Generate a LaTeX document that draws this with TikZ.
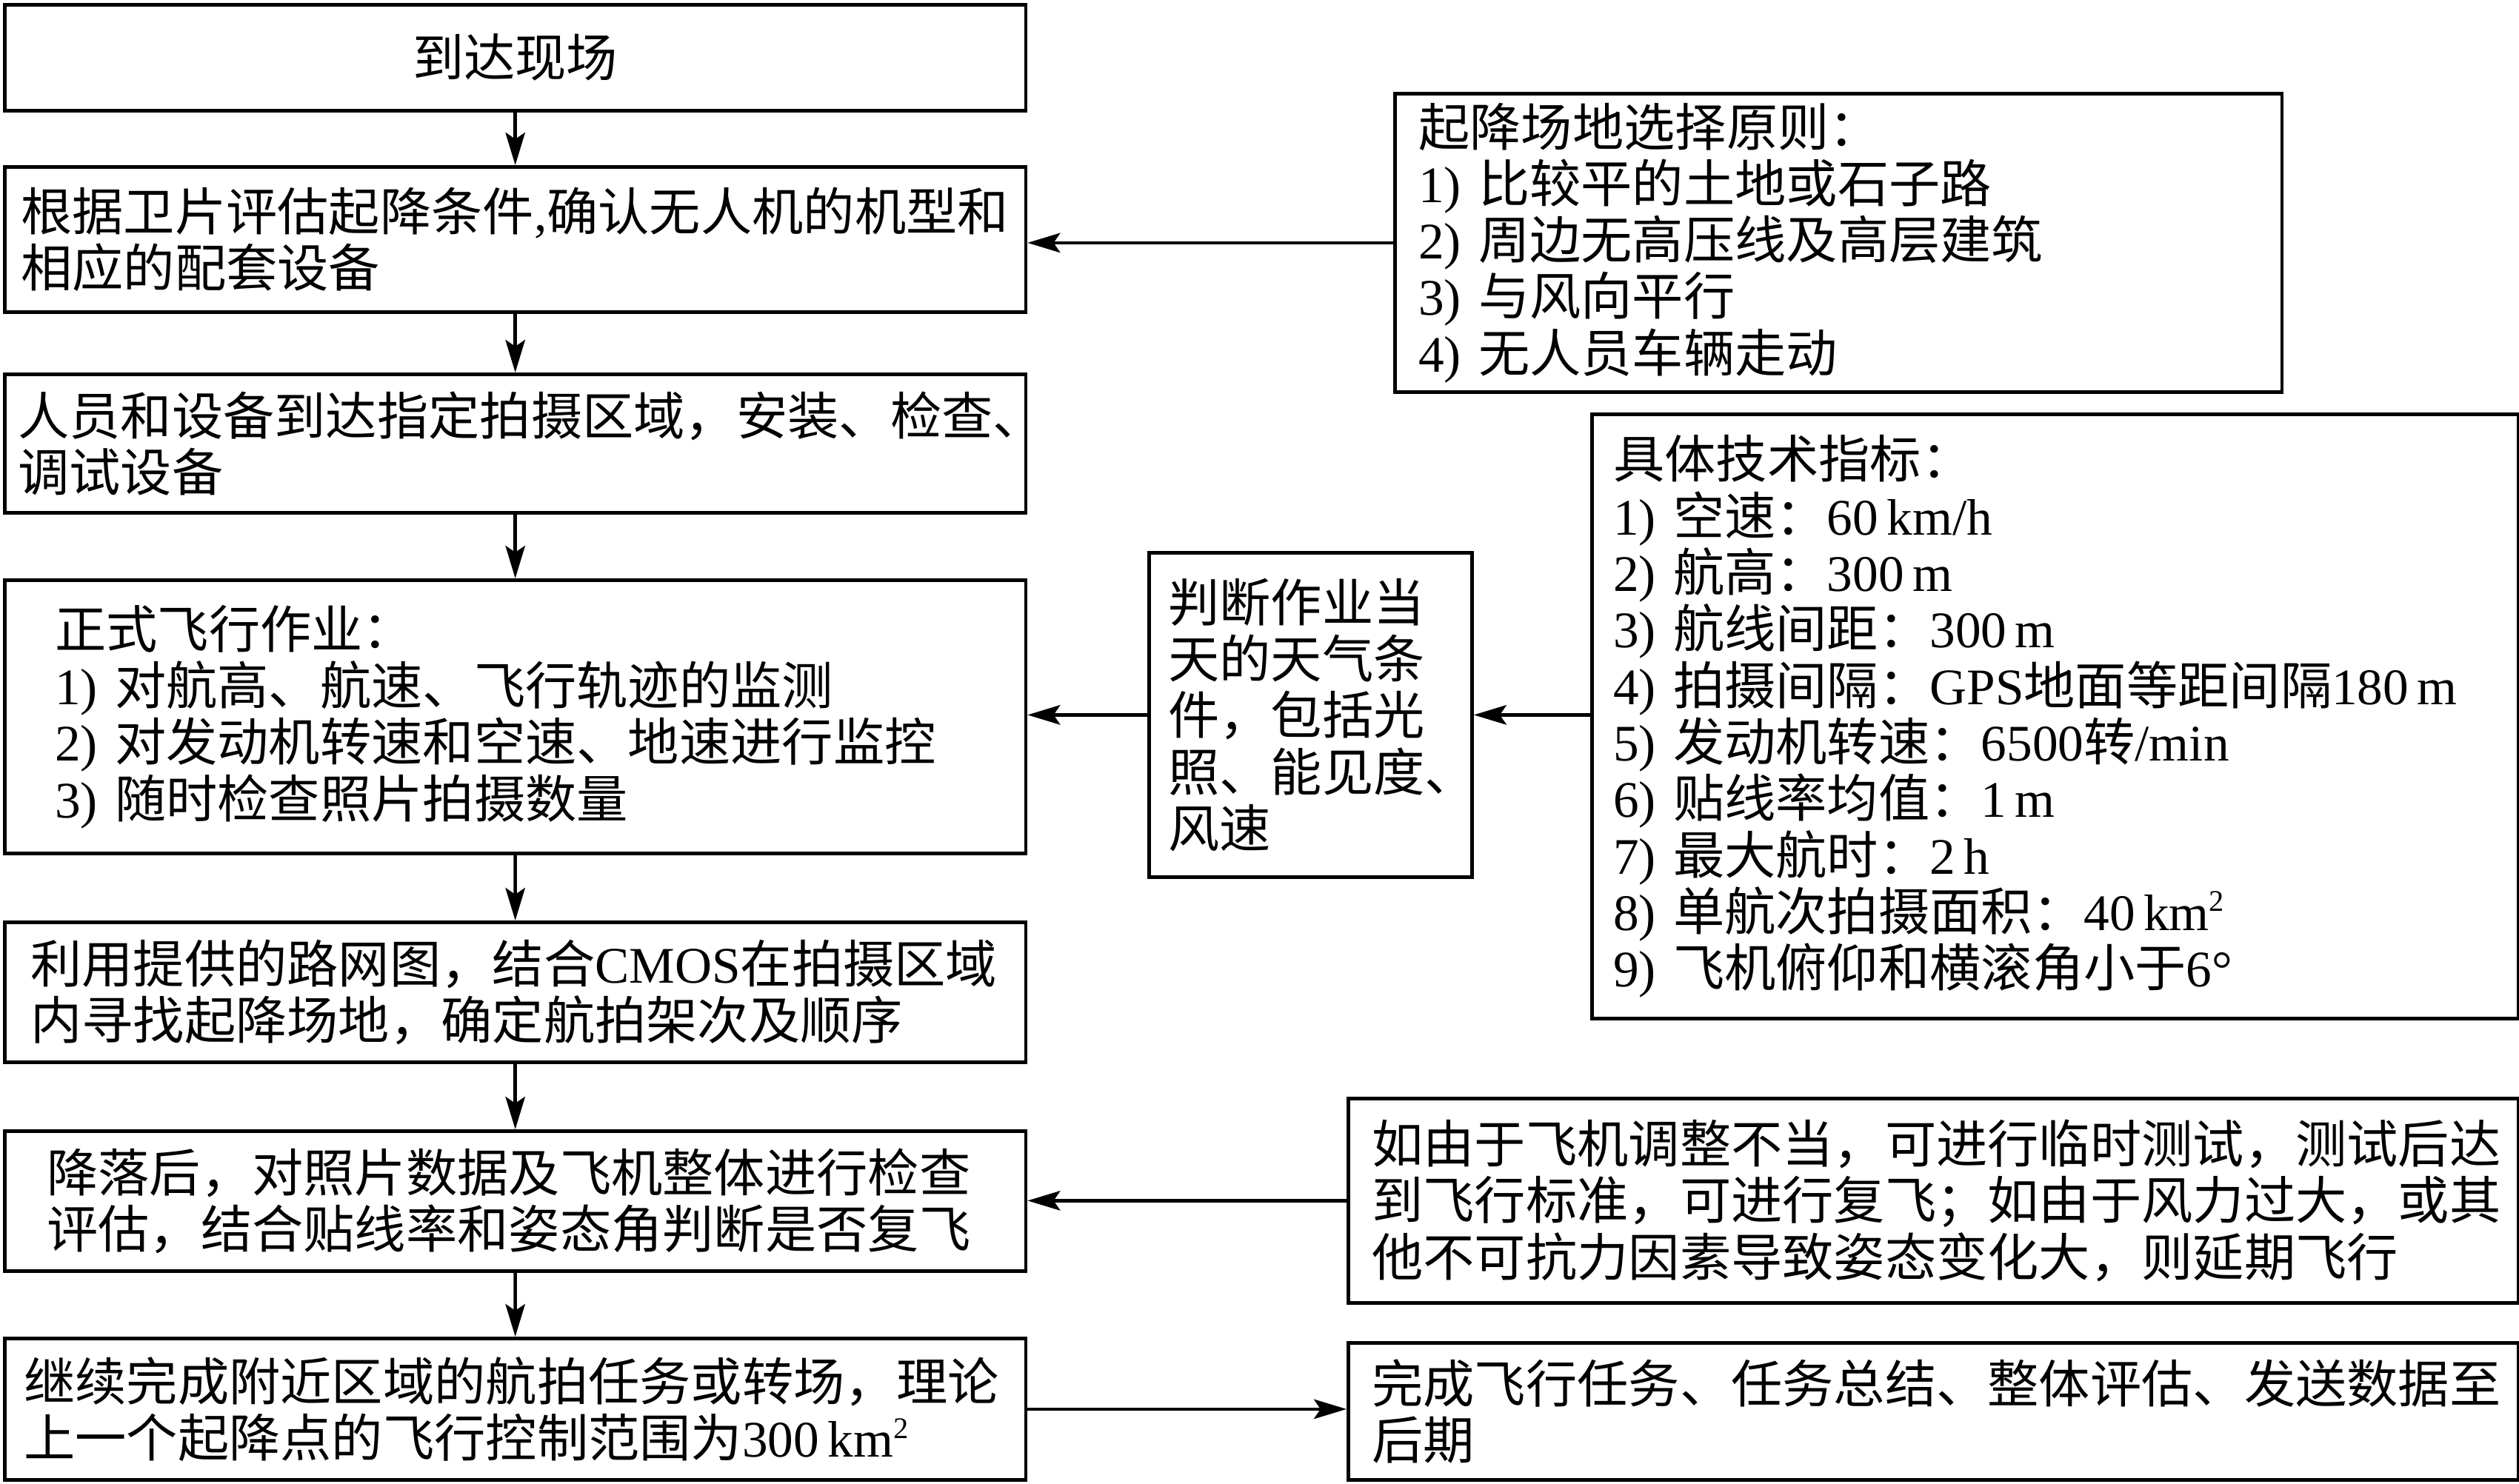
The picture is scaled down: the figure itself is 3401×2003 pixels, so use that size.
\documentclass[tikz,border=0pt]{standalone}
\usepackage{fontspec}
\setmainfont{Noto Sans CJK SC}
\newfontfamily\tnrfont{Liberation Serif}
\newcommand\tnr[1]{{\tnrfont #1}}
\newcommand\sq{\raisebox{0.8ex}{\fontsize{11.5}{11.5}\selectfont 2}}
\usetikzlibrary{arrows.meta}
\begin{document}
\begin{tikzpicture}[x=0.01cm,y=-0.01cm,
  box/.style={draw, line width=1.3pt, inner ysep=2pt, anchor=north west,
    font=\fontsize{19.7}{21.7}\selectfont},
  lbox/.style={box, align=left},
  arr/.style={line width=1.3pt, -{Stealth[length=12.5pt,width=7.5pt,inset=2.5pt]}}]
\useasboundingbox (0,0) rectangle (3401,2003);
% left column
\node[box, minimum width=13.78cm, minimum height=1.43cm] (b1) at (4,4) {到达现场};
\node[lbox, minimum width=13.78cm, minimum height=1.96cm, inner xsep=0.22cm, text width=13.34cm] (b2) at (4,223)
  {根据卫片评估起降条件\tnr{,}确认无人机的机型和\\相应的配套设备};
\node[lbox, minimum width=13.78cm, minimum height=1.87cm, inner xsep=0.18cm, text width=13.42cm] (b3) at (4,503)
  {人员和设备到达指定拍摄区域，安装、检查、\\调试设备};
\node[lbox, minimum width=13.78cm, minimum height=3.69cm, inner xsep=0.68cm, text width=12.42cm] (b4) at (4,781)
  {正式飞行作业：\\\tnr{1) }对航高、航速、飞行轨迹的监测\\\tnr{2) }对发动机转速和空速、地速进行监控\\\tnr{3) }随时检查照片拍摄数量};
\node[lbox, minimum width=13.78cm, minimum height=1.89cm, inner xsep=0.35cm, text width=13.08cm] (b5) at (4,1243)
  {利用提供的路网图，结合\tnr{CMOS}在拍摄区域\\内寻找起降场地，确定航拍架次及顺序};
\node[lbox, minimum width=13.78cm, minimum height=1.89cm, inner xsep=0.57cm, text width=12.64cm] (b6) at (4,1525)
  {降落后，对照片数据及飞机整体进行检查\\评估，结合贴线率和姿态角判断是否复飞};
\node[lbox, minimum width=13.78cm, minimum height=1.91cm, inner xsep=0.26cm, text width=13.26cm] (b7) at (4,1805)
  {继续完成附近区域的航拍任务或转场，理论\\上一个起降点的飞行控制范围为\tnr{300\,km\sq}};
% right side
\node[lbox, minimum width=11.97cm, minimum height=4.03cm, inner xsep=0.32cm, text width=11.33cm] (A) at (1881,124)
  {起降场地选择原则：\\\tnr{1) }比较平的土地或石子路\\\tnr{2) }周边无高压线及高层建筑\\\tnr{3) }与风向平行\\\tnr{4) }无人员车辆走动};
\node[lbox, minimum width=12.50cm, minimum height=8.16cm, inner xsep=0.29cm, text width=11.92cm] (B) at (2147,557)
  {具体技术指标：\\
   \tnr{1) }空速：\tnr{60\,km/h}\\
   \tnr{2) }航高：\tnr{300\,m}\\
   \tnr{3) }航线间距：\tnr{300\,m}\\
   \tnr{4) }拍摄间隔：\tnr{GPS}地面等距间隔\tnr{180\,m}\\
   \tnr{5) }发动机转速：\tnr{6500}转\tnr{/min}\\
   \tnr{6) }贴线率均值：\tnr{1\,m}\\
   \tnr{7) }最大航时：\tnr{2\,h}\\
   \tnr{8) }单航次拍摄面积：\tnr{40\,km\sq}\\
   \tnr{9) }飞机俯仰和横滚角小于\tnr{6°}};
\node[lbox, minimum width=4.36cm, minimum height=4.38cm, inner xsep=0.26cm, text width=3.84cm] (C) at (1549,744)
  {判断作业当\\天的天气条\\件，包括光\\照、能见度、\\风速};
\node[lbox, minimum width=15.79cm, minimum height=2.76cm, inner xsep=0.32cm, text width=15.15cm] (D) at (1818,1481)
  {如由于飞机调整不当，可进行临时测试，测试后达\\到飞行标准，可进行复飞；如由于风力过大，或其\\他不可抗力因素导致姿态变化大，则延期飞行};
\node[lbox, minimum width=15.79cm, minimum height=1.85cm, inner xsep=0.32cm, text width=15.15cm] (E) at (1818,1811)
  {完成飞行任务、任务总结、整体评估、发送数据至\\后期};
% connectors
\draw[arr] (b1.south) -- (b2.north);
\draw[arr] (b2.south) -- (b3.north);
\draw[arr] (b3.south) -- (b4.north);
\draw[arr] (b4.south) -- (b5.north);
\draw[arr] (b5.south) -- (b6.north);
\draw[arr] (b6.south) -- (b7.north);
\draw[arr] (A.west) -- (A.west -| b2.east);
\draw[arr] (C.east -| B.west) -- (C.east);
\draw[arr] (C.west) -- (C.west -| b4.east);
\draw[arr] (D.west) -- (D.west -| b6.east);
\draw[arr] (b7.east) -- (b7.east -| E.west);
\end{tikzpicture}
\end{document}
